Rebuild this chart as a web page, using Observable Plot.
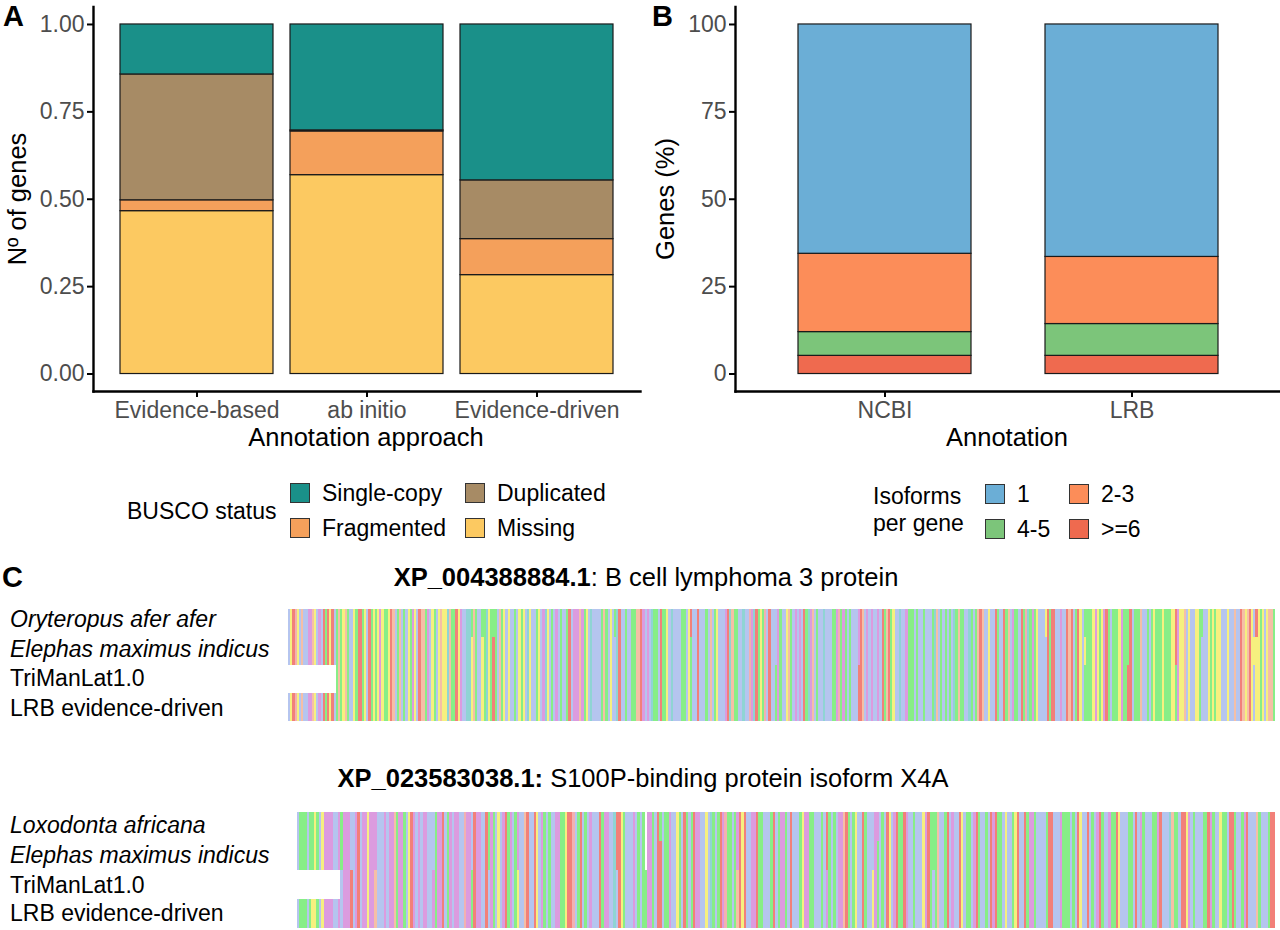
<!DOCTYPE html>
<html><head><meta charset="utf-8">
<script src="https://cdn.jsdelivr.net/npm/d3@7"></script>
<script src="https://cdn.jsdelivr.net/npm/@observablehq/plot@0.6"></script>
<style>
body{margin:0;background:#fff;}
#root{position:relative;width:1280px;height:930px;overflow:hidden;background:#fff;font-family:"Liberation Sans",Arial,Helvetica,sans-serif;color:#000;}
.abs{position:absolute;}
.abs svg{display:block;}
.t{position:absolute;white-space:nowrap;line-height:1;}
.sw{position:absolute;width:20px;height:20px;box-sizing:border-box;border:1.2px solid #333;}
</style></head><body><div id="root"></div>
<script>
// ---------- Panel A data ----------
const approaches = ["Evidence-based", "ab initio", "Evidence-driven"];
const buscoStatus = ["Single-copy", "Duplicated", "Fragmented", "Missing"];
const buscoColors = ["#1a9089", "#a78b65", "#f4a05b", "#fcc961"];
const singleCopy = [0.143, 0.303, 0.446];
const duplicated = [0.360, 0.003, 0.168];
const fragmented = [0.031, 0.125, 0.103];
const missing = [0.466, 0.569, 0.283];
const yTicksA = [0, 0.25, 0.5, 0.75, 1];

// ---------- Panel B data ----------
const annotations = ["NCBI", "LRB"];
const isoformClasses = ["1", "2-3", "4-5", ">=6"];
const isoformColors = ["#6baed6", "#fc8d59", "#7cc57a", "#ef6a4f"];
const iso1 = [65.6, 66.5];
const iso2to3 = [22.4, 19.2];
const iso4to5 = [6.8, 9.1];
const iso6plus = [5.2, 5.2];
const yTicksB = [0, 25, 50, 75, 100];

// ---------- Panel C data ----------
const aaGroups = ["AILMFWV", "KR", "DE", "NQST", "G", "P", "HY", "C"];
const aaGroupColors = ["#b5c5ef", "#f28079", "#dc9bdf", "#87ee87", "#f5bfa6", "#f6f07f", "#8fd4d4", "#f2b1b1"];

const aln1Labels = ["Oryteropus afer afer", "Elephas maximus indicus", "TriManLat1.0", "LRB evidence-driven"];
const aln1Italic = [true, true, false, false];
const aln1Consensus = "MPRCPAGAMDEGPVDLRTRPKASGTPGNALPTRKSPLRTPSPEPTSPRGASGLTVPQDPLRGGSDLPTVPGPPHGNSRPEALYYPGTLLPQYPTRSMGSPFPLVNLPTPLYPMMSPMEHPLSADITMATRADEDGDTPLHIAVVQGNLPAVHRLVNLFQQGGRELDIYNNLRQTPLHLAVITTLPSVVRLLVTAGASPMALDRHGQTAAHLACEHRSPTCLRALLDSAAPGTLDLEARNYDGLTALHVAVNTECQETVQLLLERGADIDAVDIKSGRSPLIHAVENNSLSMVQLLLQHGANVNAQMYSGSSALHSASGRGLLPLVRTLVRSGADSSLKNCHNDTPLMVARSRRVIDILRGKATRPASTSQPDPSPDRSANTSPESSSRLSSNGLLSASPSSSPSQSPPRDPPGFPMAPPNFFLPSPSPPAFLPFAGVLRGPGRPVPPSPAPGGS";
const aln1Gaps = [[2, 0, 21]];
const aln1Variants = [
  [[0], 38, "S"], [[0], 56, "T"], [[0], 84, "S"], [[0], 89, "Q"], [[0], 94, "N"],
  [[0], 150, "T"], [[0], 185, "R"], [[0], 240, "E"], [[0], 300, "S"], [[0], 348, "P"],
  [[0], 420, "T"], [[0], 445, "R"],
  [[1], 120, "V"], [[1], 366, "P"], [[1], 444, "P"],
  [[2, 3], 90, "S"], [[2, 3], 224, "T"], [[2, 3], 262, "R"], [[2, 3], 386, "R"], [[2, 3], 408, "S"]
];

const aln2Labels = ["Loxodonta africana", "Elephas maximus indicus", "TriManLat1.0", "LRB evidence-driven"];
const aln2Italic = [true, true, false, false];
const aln2Consensus = "MSNTVQNPSLPDEEDAVETEDDLAEKMDEPEEDIALDVEEGTDEQLPKDAELEDMVANDEKLQEAEDLVCEEVKDEAIRTDNAPLEKQDVSEAFGRLAKPLENLTAVDESQPRKCFSRLTAEVLAKNDEALHKRPSMVLEVSVTNEDQLRKAQSDAWPSFRNLTKEEMAPVHTLSRDCSTLNEKPKVAEDRNSLALSKMTEESFRALAQPEDNSALLSVKTAQLEEGRNITPVMKSLFADQVSLRPLEKTNRDALSAVAPEKSQNGLFTRLEALKPANSVDRQLATAKEKSNFPLITPRAVKQEDSLMAASKRALFETQNASLKPAIRATVDKSLAENTKPFLAQSIRAENAVVQSDKALFHGSTARKPELSAVAQSKDNLMPSTARRTFFSEKAAAGNIVASKK";
const aln2Gaps = [[2, 0, 18]];
const aln2Variants = [
  [[2, 3], 18, "A"], [[2, 3], 22, "K"], [[2, 3], 32, "G"], [[2, 3], 56, "E"], [[2, 3], 60, "R"],
  [[2, 3], 72, "S"], [[2, 3], 79, "L"], [[2, 3], 91, "P"], [[2, 3], 125, "R"], [[2, 3], 132, "V"],
  [[2, 3], 182, "G"], [[2, 3], 219, "D"], [[2, 3], 238, "P"], [[2, 3], 263, "A"], [[2, 3], 298, "K"],
  [[2, 3], 325, "L"], [[2, 3], 386, "T"],
  [[0, 1], 144, "-"], [[0], 150, "N"], [[0], 240, "E"], [[3], 6, "P"]
];

// ---------- helpers ----------
const root = document.getElementById("root");
const FONT = "'Liberation Sans', Arial, Helvetica, sans-serif";
function place(node, left, top) {
  const d = document.createElement("div");
  d.className = "abs";
  d.style.left = left + "px";
  d.style.top = top + "px";
  d.appendChild(node);
  root.appendChild(d);
  return d;
}
function text(str, x, y, o = {}) {
  const d = document.createElement("div");
  d.className = "t";
  if (o.html) d.innerHTML = str; else d.textContent = str;
  d.style.left = x + "px";
  d.style.top = y + "px";
  d.style.fontSize = (o.size || 23) + "px";
  d.style.fontWeight = o.bold ? "bold" : "normal";
  d.style.fontStyle = o.italic ? "italic" : "normal";
  d.style.color = o.color || "#000";
  d.style.transform = o.transform || "translateY(-50%)";
  root.appendChild(d);
  return d;
}
const plotStyle = {fontFamily: FONT, fontSize: "23px", background: "transparent", color: "#000", overflow: "visible"};

// ---------- Panel A ----------
const dataA = [];
approaches.forEach((a, i) => {
  dataA.push({approach: a, status: "Missing", value: missing[i]});
  dataA.push({approach: a, status: "Fragmented", value: fragmented[i]});
  dataA.push({approach: a, status: "Duplicated", value: duplicated[i]});
  dataA.push({approach: a, status: "Single-copy", value: singleCopy[i]});
});
const plotA = Plot.plot({
  width: 640, height: 430,
  marginLeft: 93, marginRight: 0, marginTop: 6.5, marginBottom: 39,
  style: plotStyle,
  x: {domain: approaches, paddingInner: 0.1, paddingOuter: 0.15, label: null},
  y: {domain: [-0.05, 1.05], label: null},
  color: {domain: buscoStatus, range: buscoColors},
  marks: [
    Plot.barY(dataA, Plot.stackY({x: "approach", y: "value", fill: "status", stroke: "#1a1a1a", strokeWidth: 1.2})),
    Plot.frame({anchor: "left", strokeWidth: 2.4}),
    Plot.frame({anchor: "bottom", strokeWidth: 2.4}),
    Plot.axisY({ticks: yTicksA, tickFormat: d3.format(".2f"), tickSize: 6, tickPadding: 3, strokeWidth: 2, stroke: "#000", fill: "#4d4d4d", label: null}),
    Plot.axisX({tickSize: 6, tickPadding: 4, strokeWidth: 2, stroke: "#000", fill: "#4d4d4d", label: null})
  ]
});
place(plotA, 0, 0);

// ---------- Panel B ----------
const dataB = [];
annotations.forEach((a, i) => {
  dataB.push({annotation: a, iso: ">=6", value: iso6plus[i]});
  dataB.push({annotation: a, iso: "4-5", value: iso4to5[i]});
  dataB.push({annotation: a, iso: "2-3", value: iso2to3[i]});
  dataB.push({annotation: a, iso: "1", value: iso1[i]});
});
const plotB = Plot.plot({
  width: 640, height: 430,
  marginLeft: 95, marginRight: 0, marginTop: 6.5, marginBottom: 39,
  style: plotStyle,
  x: {domain: annotations, paddingInner: 0.3, paddingOuter: 0.25, label: null},
  y: {domain: [-5, 105], label: null},
  color: {domain: isoformClasses, range: isoformColors},
  marks: [
    Plot.barY(dataB, Plot.stackY({x: "annotation", y: "value", fill: "iso", stroke: "#1a1a1a", strokeWidth: 1.2})),
    Plot.frame({anchor: "left", strokeWidth: 2.4}),
    Plot.frame({anchor: "bottom", strokeWidth: 2.4}),
    Plot.axisY({ticks: yTicksB, tickSize: 6, tickPadding: 3, strokeWidth: 2, stroke: "#000", fill: "#4d4d4d", label: null}),
    Plot.axisX({tickSize: 6, tickPadding: 4, strokeWidth: 2, stroke: "#000", fill: "#4d4d4d", label: null})
  ]
});
place(plotB, 640, 0);

// ---------- Axis titles & panel letters ----------
text("A", 3, 16, {size: 29, bold: true});
text("B", 652, 16, {size: 29, bold: true});
text("C", 2, 577, {size: 29, bold: true});
text("Annotation approach", 366, 438, {size: 25.5, transform: "translate(-50%,-50%)"});
text("Annotation", 1007, 438, {size: 25.5, transform: "translate(-50%,-50%)"});
text("N\u00ba of genes", 18, 199, {size: 25.5, transform: "translate(-50%,-50%) rotate(-90deg)"});
text("Genes (%)", 666, 199, {size: 25.5, transform: "translate(-50%,-50%) rotate(-90deg)"});

// ---------- Legends ----------
function legend(items, colors, colX, rowY, labelOffset) {
  items.forEach((name, i) => {
    const c = i % 2, r = Math.floor(i / 2);
    const sw = document.createElement("div");
    sw.className = "sw";
    sw.style.left = colX[c] + "px";
    sw.style.top = rowY[r] + "px";
    sw.style.background = colors[i];
    root.appendChild(sw);
    text(name, colX[c] + labelOffset, rowY[r] + 10, {size: 23});
  });
}
text("BUSCO status", 127, 511, {size: 23});
legend(buscoStatus, buscoColors, [290, 465], [483, 518], 32);
text("Isoforms", 873, 496, {size: 23});
text("per gene", 873, 523, {size: 23});
legend(isoformClasses, isoformColors, [985, 1069], [484, 519], 32);

// ---------- Panel C: alignments ----------
const aaLetters = [], aaColors = [];
aaGroups.forEach((g, i) => g.split("").forEach(ch => { aaLetters.push(ch); aaColors.push(aaGroupColors[i]); }));

function alignmentPlot(labels, consensus, gaps, variants, width, height) {
  const data = [];
  labels.forEach((lab, r) => {
    const seq = consensus.split("");
    gaps.filter(g => g[0] === r).forEach(([, s, e]) => { for (let i = s; i <= e; i++) seq[i] = "-"; });
    variants.filter(v => v[0].includes(r)).forEach(([, c, aa]) => { seq[c] = aa; });
    seq.forEach((aa, i) => { if (aa !== "-") data.push({row: lab, col: i, aa}); });
  });
  return Plot.plot({
    width, height, margin: 0,
    style: plotStyle,
    x: {type: "band", domain: d3.range(consensus.length), padding: 0, axis: null},
    y: {domain: labels, padding: 0, axis: null},
    color: {domain: aaLetters, range: aaColors},
    marks: [Plot.cell(data, {x: "col", y: "row", fill: "aa", shapeRendering: "crispEdges"})]
  });
}

text("<b>XP_004388884.1</b>: B cell lymphoma 3 protein", 646, 578, {size: 25.5, html: true, transform: "translate(-50%,-50%)"});
place(alignmentPlot(aln1Labels, aln1Consensus, aln1Gaps, aln1Variants, 987, 115), 288, 607);
const aln1LabelY = [619, 649, 678, 708];
aln1Labels.forEach((l, i) => text(l, 10, aln1LabelY[i], {size: 23, italic: aln1Italic[i]}));

text("<b>XP_023583038.1:</b> S100P-binding protein isoform X4A", 643, 779, {size: 25.5, html: true, transform: "translate(-50%,-50%)"});
place(alignmentPlot(aln2Labels, aln2Consensus, aln2Gaps, aln2Variants, 978, 116), 297, 812);
const aln2LabelY = [825, 855, 885, 913];
aln2Labels.forEach((l, i) => text(l, 10, aln2LabelY[i], {size: 23, italic: aln2Italic[i]}));
</script></body></html>
